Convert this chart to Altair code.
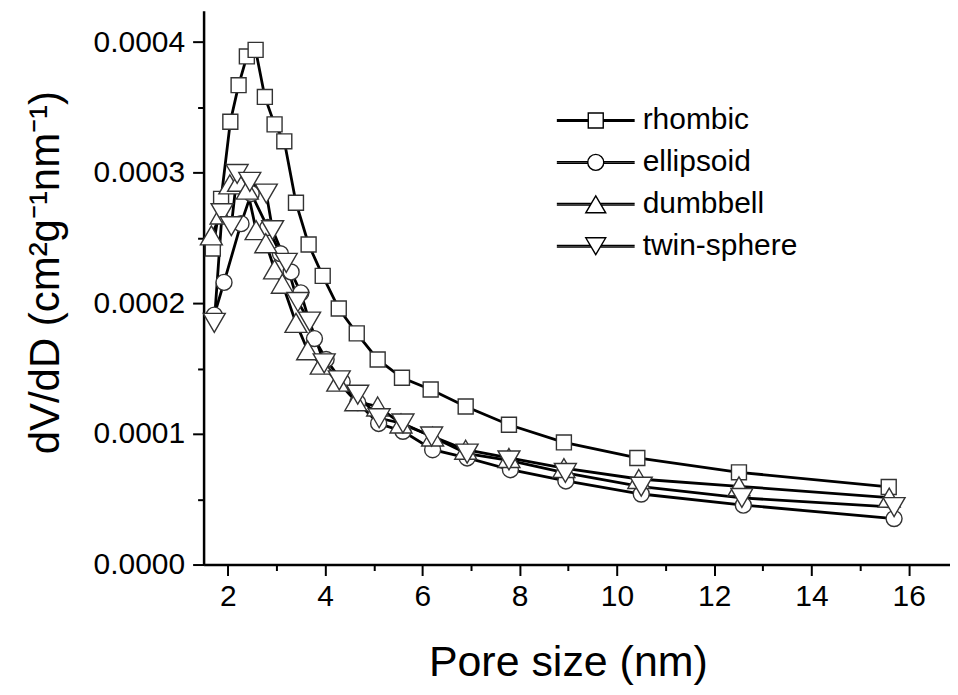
import altair as alt
import pandas as pd

series_names = ["rhombic", "ellipsoid", "dumbbell", "twin-sphere"]

rhombic_x = [1.69, 1.86, 2.05, 2.22, 2.39, 2.57, 2.76, 2.96, 3.16, 3.40, 3.66, 3.95, 4.28,
             4.65, 5.08, 5.58, 6.17, 6.89, 7.78, 8.91, 10.42, 12.51, 15.59]
rhombic_y = [0.000242, 0.000280, 0.000339, 0.000367, 0.000389, 0.000394, 0.000358, 0.000337,
             0.000324, 0.000277, 0.000245, 0.000221, 0.000196, 0.000177, 0.000157, 0.000143,
             0.000134, 0.000121, 0.000107, 0.0000935, 0.0000816, 0.0000706, 0.0000594]

ellipsoid_x = [1.72, 1.92, 2.27, 2.48, 2.82, 3.08, 3.30, 3.50, 3.78, 4.02, 4.35, 4.67, 5.10,
               5.60, 6.21, 6.92, 7.81, 8.95, 10.50, 12.60, 15.70]
ellipsoid_y = [0.000191, 0.000216, 0.000261, 0.000284, 0.000258, 0.000238, 0.000224, 0.000208,
               0.000173, 0.000157, 0.000140, 0.000124, 0.000108, 0.000102, 0.0000879, 0.0000816,
               0.0000726, 0.0000640, 0.0000540, 0.0000455, 0.0000352]

dumbbell_x = [1.66, 1.86, 2.04, 2.22, 2.40, 2.58, 2.78, 2.96, 3.12, 3.40, 3.64, 3.92, 4.26,
              4.63, 5.08, 5.56, 6.21, 6.89, 7.78, 8.91, 10.45, 12.51, 15.60]
dumbbell_y = [0.000252, 0.000268, 0.000291, 0.000293, 0.000287, 0.000256, 0.000246, 0.000226,
              0.000215, 0.000185, 0.000164, 0.000153, 0.000140, 0.000125, 0.000121, 0.000108,
              0.000098, 0.0000879, 0.0000816, 0.0000739, 0.0000655, 0.0000599, 0.0000512]

twin_x = [1.72, 1.88, 2.07, 2.19, 2.45, 2.79, 2.92, 3.20, 3.44, 3.68, 3.98, 4.29, 4.67, 5.11,
          5.60, 6.19, 6.92, 7.78, 8.94, 10.50, 12.57, 15.70]
twin_y = [0.000185, 0.000269, 0.000259, 0.000299, 0.000293, 0.000284, 0.000256, 0.000231,
          0.000201, 0.000186, 0.000154, 0.000141, 0.000130, 0.000112, 0.000108, 0.000098,
          0.0000849, 0.0000797, 0.0000701, 0.0000596, 0.000051, 0.0000440]

x_ticks = list(range(2, 17))
y_ticks = [i * 0.00005 for i in range(9)]

rows = []
for name, xs, ys in [("rhombic", rhombic_x, rhombic_y), ("ellipsoid", ellipsoid_x, ellipsoid_y),
                     ("dumbbell", dumbbell_x, dumbbell_y), ("twin-sphere", twin_x, twin_y)]:
    for a, b in zip(xs, ys):
        rows.append({"series": name, "pore": a, "dvdd": b})
df = pd.DataFrame(rows)

# marker shapes (unit box [-1,1] -> 20 px at size 400)
sq = "M-0.75,-0.75H0.75V0.75H-0.75Z"
circ = "M-0.8,0A0.8,0.8 0 1,0 0.8,0A0.8,0.8 0 1,0 -0.8,0Z"
tri_up = "M0,-0.95L1.1,0.95H-1.1Z"
tri_dn = "M0,0.95L1.1,-0.95H-1.1Z"
marker_paths = [sq, circ, tri_up, tri_dn]


def with_line(p, half):
    return (f"M-3.9,-0.08H-{half}M-3.9,0.08H-{half}"
            f"M{half},-0.08H3.9M{half},0.08H3.9" + p)


legend_paths = [with_line(sq, 0.75), with_line(circ, 0.8),
                with_line("M0,-0.85L1.0,0.85H-1.0Z", 0.5), with_line("M0,0.85L1.0,-0.85H-1.0Z", 0.5)]

FONT = "Liberation Sans"

major_y = "abs(datum.value*10000 - round(datum.value*10000)) < 1e-6"

x_enc = alt.X(
    "pore:Q",
    scale=alt.Scale(domain=[1.5, 16.85], nice=False, zero=False),
    axis=alt.Axis(
        title="Pore size (nm)", values=x_ticks,
        labelExpr="datum.value % 2 == 0 ? datum.label : ''",
        tickSize={"condition": {"test": "datum.value % 2 == 0", "value": 11}, "value": 6},
        labelPadding=6, titlePadding=30, titleX=365, titleFontSize=43,
    ),
)
y_enc = alt.Y(
    "dvdd:Q",
    scale=alt.Scale(domain=[0, 0.000424], nice=False),
    axis=alt.Axis(
        title="dV/dD (cm²g⁻¹nm⁻¹)", values=y_ticks,
        labelExpr=f"{major_y} ? format(datum.value, '.4f') : ''",
        tickSize={"condition": {"test": major_y, "value": 11}, "value": 6},
        labelPadding=8, titlePadding=26, titleY=262,
    ),
)

lines = alt.Chart(df).mark_line(color="black", strokeWidth=2.8).encode(
    x=x_enc, y=y_enc, detail="series:N"
)

points = alt.Chart(df).mark_point(
    filled=True, fill="white", stroke="#333333", strokeWidth=1.4, size=400, opacity=1
).encode(
    x=x_enc, y=y_enc,
    shape=alt.Shape("series:N", scale=alt.Scale(domain=series_names, range=marker_paths), legend=None),
)

legend_layer = alt.Chart(df).transform_filter("false").mark_point(
    filled=False, stroke="black", strokeWidth=1.4, size=400, opacity=1
).encode(
    x=x_enc, y=y_enc,
    shape=alt.Shape(
        "series:N",
        scale=alt.Scale(domain=series_names, range=legend_paths),
        legend=alt.Legend(
            title=None, orient="none", legendX=378, legendY=95,
            labelFontSize=30, labelFont=FONT, labelColor="black", labelOffset=32,
            symbolSize=400, symbolStrokeColor="black",
            symbolStrokeWidth=1.4, symbolOpacity=1, rowPadding=12, padding=0,
            labelLimit=400,
        ),
    ),
)

chart = (
    alt.layer(lines, points, legend_layer)
    .resolve_scale(shape="independent")
    .properties(
        width=748, height=555,
        autosize=alt.AutoSizeParams(type="none"),
        padding={"left": 196, "top": 2, "right": 0, "bottom": 125},
    )
    .configure_view(stroke=None)
    .configure_axis(
        grid=False, domainColor="black", domainWidth=2.5, tickColor="black", tickWidth=2,
        labelColor="black", labelFont=FONT, labelFontSize=30,
        titleFont=FONT, titleFontSize=42, titleFontWeight="normal", titleColor="black",
    )
)

chart.save("out.html", embed_options={"renderer": "svg", "actions": False})
